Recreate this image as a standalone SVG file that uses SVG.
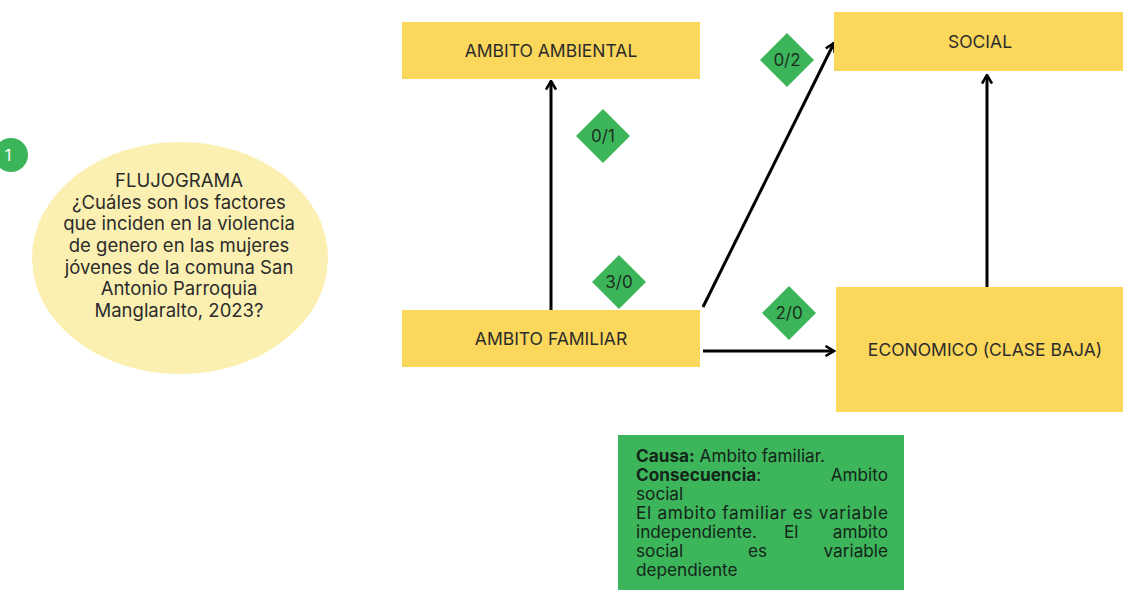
<svg xmlns="http://www.w3.org/2000/svg" width="1123" height="590" viewBox="0 0 1123 590">
<defs>
<style>
.box{fill:#fbd75b}
.lbl{font-family:Inter,"DejaVu Sans",sans-serif;font-size:17.5px;fill:#2b2b2b;text-anchor:middle}
.dia{fill:#3cb55a}
.dl{font-family:Inter,"DejaVu Sans",sans-serif;font-size:17px;fill:#1e2e20;text-anchor:middle}
.conn{stroke:#000;stroke-width:3;fill:none;marker-end:url(#arr)}
.el{font-family:Inter,"DejaVu Sans",sans-serif;font-size:18.5px;fill:#2b2b2b;text-anchor:middle}
.gt{font-family:Inter,"DejaVu Sans",sans-serif;font-size:17.2px;fill:#14261a}
</style>
<marker id="arr" viewBox="0 0 12 12" refX="10.5" refY="6" markerWidth="12" markerHeight="12" markerUnits="userSpaceOnUse" orient="auto">
<path d="M2,1 L10.5,6 L2,11" fill="none" stroke="#000" stroke-width="2.6"/>
</marker>
</defs>
<rect width="1123" height="590" fill="#fff"/>

<g id="badge">
<circle cx="11" cy="155" r="17" fill="#3cb55a"/>
<text x="8" y="161" font-family="Inter,sans-serif" font-size="16" fill="#fff" text-anchor="middle">1</text>
</g>

<g id="question">
<ellipse cx="180" cy="258" rx="148" ry="116" fill="#fbf0b2"/>
<text class="el" x="179" y="187">FLUJOGRAMA</text>
<text class="el" x="179" y="209">¿Cuáles son los factores</text>
<text class="el" x="179" y="230">que inciden en la violencia</text>
<text class="el" x="179" y="252">de genero en las mujeres</text>
<text class="el" x="179" y="274">jóvenes de la comuna San</text>
<text class="el" x="179" y="295">Antonio Parroquia</text>
<text class="el" x="179" y="317">Manglaralto, 2023?</text>
</g>

<g id="connectors">
<line class="conn" x1="551" y1="310" x2="551" y2="81"/>
<line class="conn" x1="703" y1="307" x2="834" y2="43"/>
<line class="conn" x1="703" y1="351" x2="834" y2="351"/>
<line class="conn" x1="987" y1="287" x2="987" y2="75"/>
</g>

<g id="ambiental">
<rect class="box" x="402" y="22" width="298" height="57"/>
<text class="lbl" x="551" y="57">AMBITO AMBIENTAL</text>
</g>
<g id="familiar">
<rect class="box" x="402" y="310" width="298" height="57"/>
<text class="lbl" x="551" y="345">AMBITO FAMILIAR</text>
</g>
<g id="social">
<rect class="box" x="834" y="12" width="289" height="59"/>
<text class="lbl" x="980" y="48">SOCIAL</text>
</g>
<g id="economico">
<rect class="box" x="836" y="287" width="287" height="125"/>
<text class="lbl" x="985" y="356">ECONOMICO (CLASE BAJA)</text>
</g>

<g id="d01">
<polygon class="dia" points="603,109 630,136 603,163 576,136"/>
<text class="dl" x="603" y="142">0/1</text>
</g>
<g id="d02">
<polygon class="dia" points="787,33 814,60 787,87 760,60"/>
<text class="dl" x="787" y="66">0/2</text>
</g>
<g id="d30">
<polygon class="dia" points="619,255 646,282 619,309 592,282"/>
<text class="dl" x="619" y="288">3/0</text>
</g>
<g id="d20">
<polygon class="dia" points="789,286 816,313 789,340 762,313"/>
<text class="dl" x="789" y="319">2/0</text>
</g>

<g id="note">
<rect x="618" y="435" width="286" height="160" fill="#3db55a"/>
<text class="gt" x="636" y="462"><tspan font-weight="bold">Causa:</tspan> Ambito familiar.</text>
<text class="gt" x="636" y="481"><tspan font-weight="bold">Consecuencia</tspan>:</text>
<text class="gt" x="888" y="481" text-anchor="end">Ambito</text>
<text class="gt" x="636" y="500">social</text>
<text class="gt" x="636" y="519" textLength="252" lengthAdjust="spacing">El ambito familiar es variable</text>
<text class="gt" x="636" y="538">independiente.</text>
<text class="gt" x="784" y="538">El</text>
<text class="gt" x="888" y="538" text-anchor="end">ambito</text>
<text class="gt" x="636" y="557">social</text>
<text class="gt" x="748" y="557">es</text>
<text class="gt" x="888" y="557" text-anchor="end">variable</text>
<text class="gt" x="636" y="576">dependiente</text>
</g>
</svg>
